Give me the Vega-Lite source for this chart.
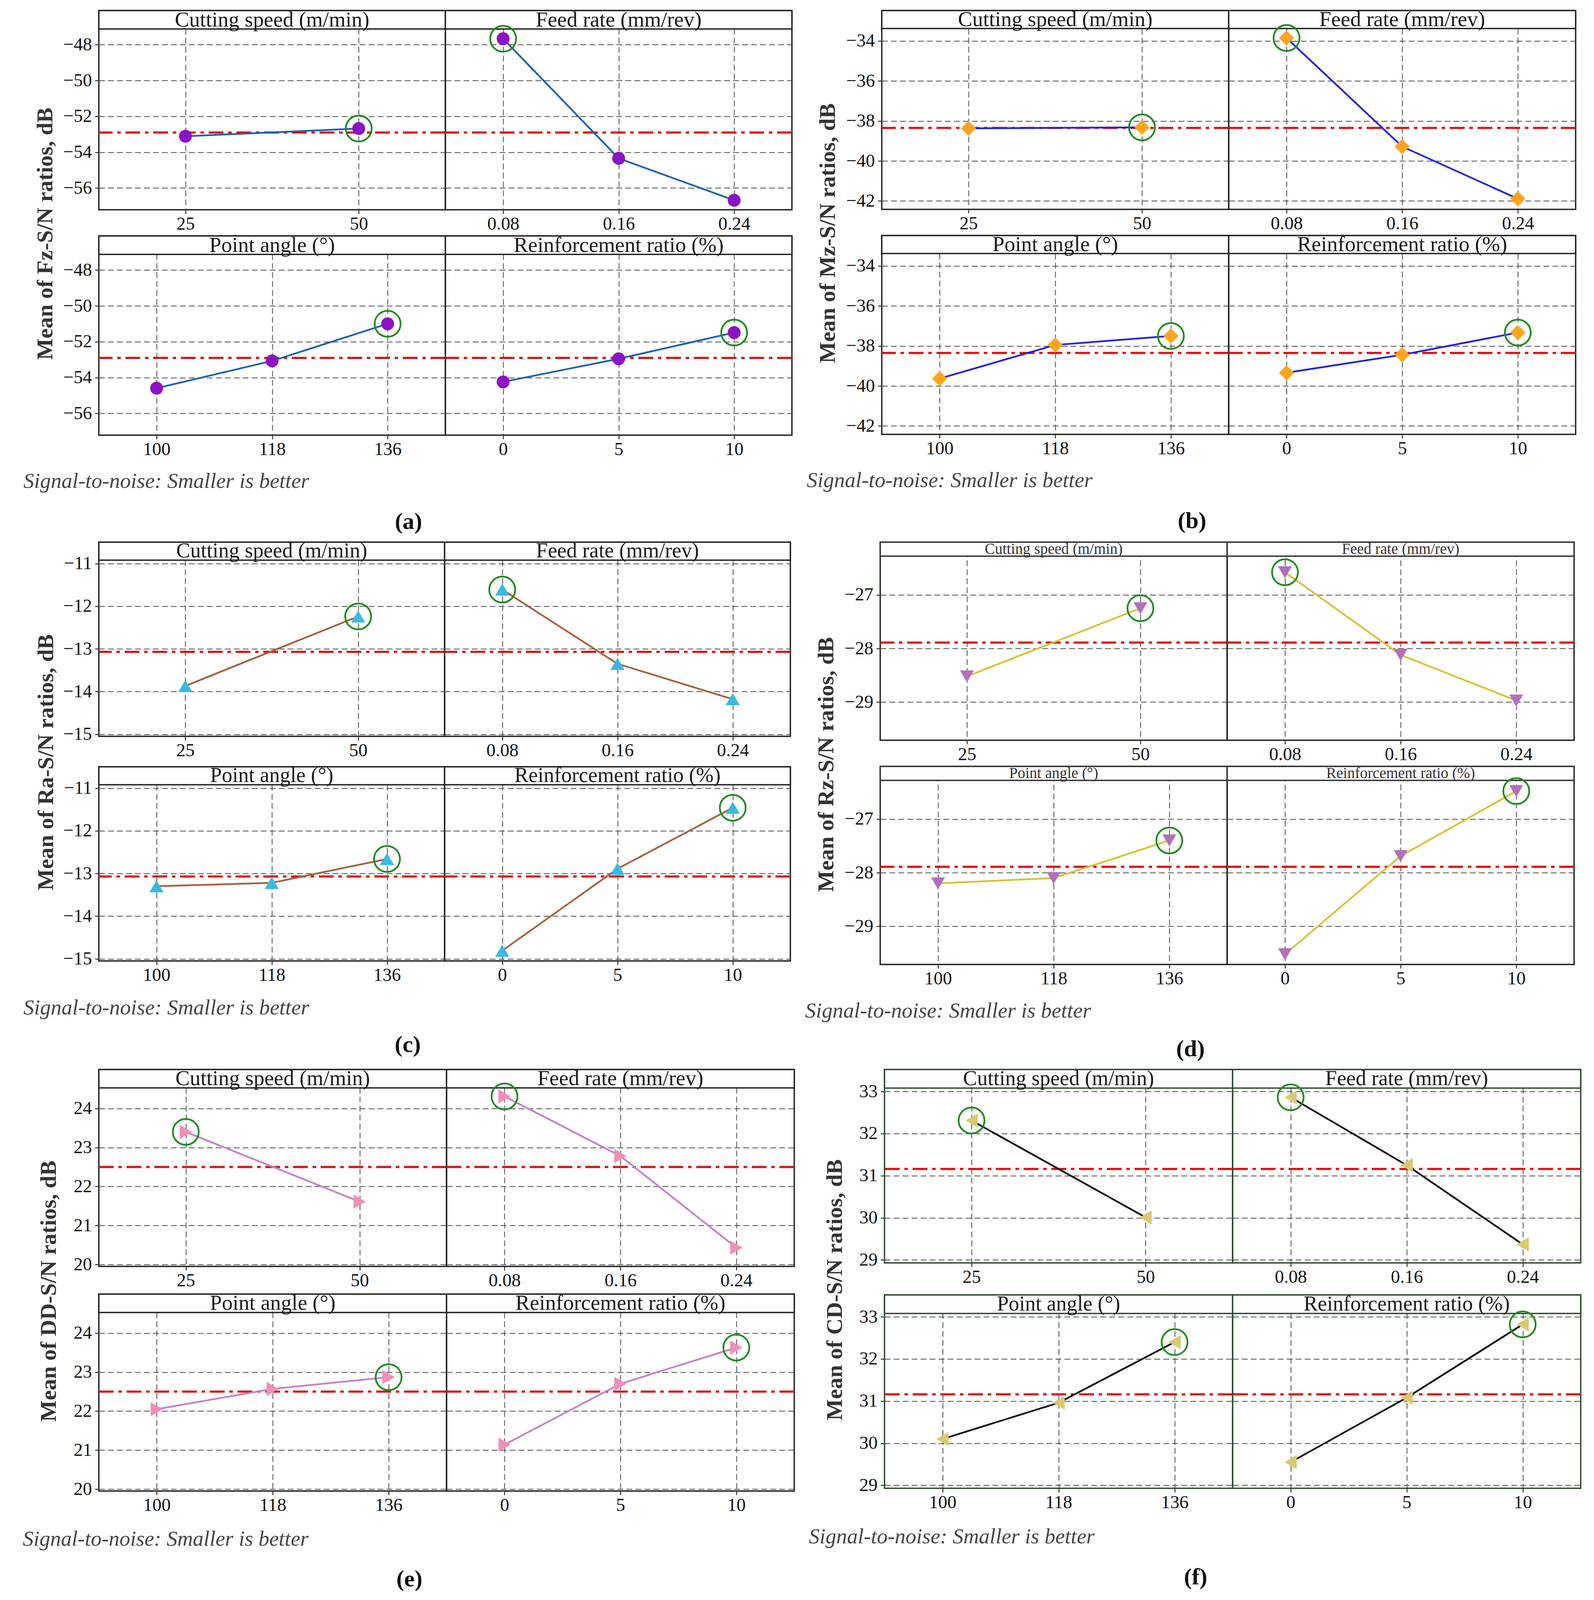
{
  "$schema": "https://vega.github.io/schema/vega-lite/v6.json",
  "background": "white",
  "padding": {"left": 58, "top": 21, "right": 0, "bottom": 0},
  "config": {
    "font": "Liberation Serif",
    "view": {"stroke": "#222", "strokeWidth": 3.5},
    "axis": {
      "labelFont": "Liberation Serif", "labelFontSize": 47, "labelColor": "#111",
      "tickSize": 10, "tickWidth": 2.5, "tickColor": "#333",
      "domain": false, "grid": true, "gridDash": [15, 8], "gridColor": "#4a4a4a", "gridWidth": 2
    },
    "axisX": {"labelAngle": 0, "labelPadding": 3},
    "axisY": {"labelPadding": 8},
    "scale": {"pointPadding": 0.5},
    "title": {"font": "Liberation Serif", "color": "#111"}
  },
  "datasets": {
    "means": [
      {"response": "Fz", "mean": -52.9},
      {"response": "Mz", "mean": -38.35},
      {"response": "Ra", "mean": -13.07},
      {"response": "Rz", "mean": -27.89},
      {"response": "DD", "mean": 22.5},
      {"response": "CD", "mean": 31.16}
    ],
    "fz": [
      {"factor": "Cutting speed (m/min)", "level": 25, "sn": -53.11, "best": false},
      {"factor": "Cutting speed (m/min)", "level": 50, "sn": -52.68, "best": true},
      {"factor": "Feed rate (mm/rev)", "level": 0.08, "sn": -47.67, "best": true},
      {"factor": "Feed rate (mm/rev)", "level": 0.16, "sn": -54.34, "best": false},
      {"factor": "Feed rate (mm/rev)", "level": 0.24, "sn": -56.68, "best": false},
      {"factor": "Point angle (°)", "level": 100, "sn": -54.59, "best": false},
      {"factor": "Point angle (°)", "level": 118, "sn": -53.07, "best": false},
      {"factor": "Point angle (°)", "level": 136, "sn": -51.0, "best": true},
      {"factor": "Reinforcement ratio (%)", "level": 0, "sn": -54.24, "best": false},
      {"factor": "Reinforcement ratio (%)", "level": 5, "sn": -52.95, "best": false},
      {"factor": "Reinforcement ratio (%)", "level": 10, "sn": -51.49, "best": true}
    ],
    "mz": [
      {"factor": "Cutting speed (m/min)", "level": 25, "sn": -38.37, "best": false},
      {"factor": "Cutting speed (m/min)", "level": 50, "sn": -38.32, "best": true},
      {"factor": "Feed rate (mm/rev)", "level": 0.08, "sn": -33.85, "best": true},
      {"factor": "Feed rate (mm/rev)", "level": 0.16, "sn": -39.28, "best": false},
      {"factor": "Feed rate (mm/rev)", "level": 0.24, "sn": -41.89, "best": false},
      {"factor": "Point angle (°)", "level": 100, "sn": -39.63, "best": false},
      {"factor": "Point angle (°)", "level": 118, "sn": -37.95, "best": false},
      {"factor": "Point angle (°)", "level": 136, "sn": -37.5, "best": true},
      {"factor": "Reinforcement ratio (%)", "level": 0, "sn": -39.34, "best": false},
      {"factor": "Reinforcement ratio (%)", "level": 5, "sn": -38.44, "best": false},
      {"factor": "Reinforcement ratio (%)", "level": 10, "sn": -37.33, "best": true}
    ],
    "ra": [
      {"factor": "Cutting speed (m/min)", "level": 25, "sn": -13.87, "best": false},
      {"factor": "Cutting speed (m/min)", "level": 50, "sn": -12.24, "best": true},
      {"factor": "Feed rate (mm/rev)", "level": 0.08, "sn": -11.61, "best": true},
      {"factor": "Feed rate (mm/rev)", "level": 0.16, "sn": -13.35, "best": false},
      {"factor": "Feed rate (mm/rev)", "level": 0.24, "sn": -14.18, "best": false},
      {"factor": "Point angle (°)", "level": 100, "sn": -13.3, "best": false},
      {"factor": "Point angle (°)", "level": 118, "sn": -13.22, "best": false},
      {"factor": "Point angle (°)", "level": 136, "sn": -12.66, "best": true},
      {"factor": "Reinforcement ratio (%)", "level": 0, "sn": -14.81, "best": false},
      {"factor": "Reinforcement ratio (%)", "level": 5, "sn": -12.89, "best": false},
      {"factor": "Reinforcement ratio (%)", "level": 10, "sn": -11.46, "best": true}
    ],
    "rz": [
      {"factor": "Cutting speed (m/min)", "level": 25, "sn": -28.52, "best": false},
      {"factor": "Cutting speed (m/min)", "level": 50, "sn": -27.25, "best": true},
      {"factor": "Feed rate (mm/rev)", "level": 0.08, "sn": -26.58, "best": true},
      {"factor": "Feed rate (mm/rev)", "level": 0.16, "sn": -28.12, "best": false},
      {"factor": "Feed rate (mm/rev)", "level": 0.24, "sn": -28.97, "best": false},
      {"factor": "Point angle (°)", "level": 100, "sn": -28.2, "best": false},
      {"factor": "Point angle (°)", "level": 118, "sn": -28.1, "best": false},
      {"factor": "Point angle (°)", "level": 136, "sn": -27.4, "best": true},
      {"factor": "Reinforcement ratio (%)", "level": 0, "sn": -29.52, "best": false},
      {"factor": "Reinforcement ratio (%)", "level": 5, "sn": -27.69, "best": false},
      {"factor": "Reinforcement ratio (%)", "level": 10, "sn": -26.48, "best": true}
    ],
    "dd": [
      {"factor": "Cutting speed (m/min)", "level": 25, "sn": 23.4, "best": true},
      {"factor": "Cutting speed (m/min)", "level": 50, "sn": 21.61, "best": false},
      {"factor": "Feed rate (mm/rev)", "level": 0.08, "sn": 24.31, "best": true},
      {"factor": "Feed rate (mm/rev)", "level": 0.16, "sn": 22.78, "best": false},
      {"factor": "Feed rate (mm/rev)", "level": 0.24, "sn": 20.43, "best": false},
      {"factor": "Point angle (°)", "level": 100, "sn": 22.05, "best": false},
      {"factor": "Point angle (°)", "level": 118, "sn": 22.57, "best": false},
      {"factor": "Point angle (°)", "level": 136, "sn": 22.87, "best": true},
      {"factor": "Reinforcement ratio (%)", "level": 0, "sn": 21.14, "best": false},
      {"factor": "Reinforcement ratio (%)", "level": 5, "sn": 22.7, "best": false},
      {"factor": "Reinforcement ratio (%)", "level": 10, "sn": 23.63, "best": true}
    ],
    "cd": [
      {"factor": "Cutting speed (m/min)", "level": 25, "sn": 32.31, "best": true},
      {"factor": "Cutting speed (m/min)", "level": 50, "sn": 30.01, "best": false},
      {"factor": "Feed rate (mm/rev)", "level": 0.08, "sn": 32.86, "best": true},
      {"factor": "Feed rate (mm/rev)", "level": 0.16, "sn": 31.25, "best": false},
      {"factor": "Feed rate (mm/rev)", "level": 0.24, "sn": 29.37, "best": false},
      {"factor": "Point angle (°)", "level": 100, "sn": 30.1, "best": false},
      {"factor": "Point angle (°)", "level": 118, "sn": 30.96, "best": false},
      {"factor": "Point angle (°)", "level": 136, "sn": 32.4, "best": true},
      {"factor": "Reinforcement ratio (%)", "level": 0, "sn": 29.55, "best": false},
      {"factor": "Reinforcement ratio (%)", "level": 5, "sn": 31.08, "best": false},
      {"factor": "Reinforcement ratio (%)", "level": 10, "sn": 32.82, "best": true}
    ]
  },
  "spacing": 16,
  "vconcat": [
    {
      "hconcat": [
        {
          "title": {"text": "(a)", "orient": "bottom", "anchor": "middle", "frame": "bounds", "fontSize": 60, "fontWeight": "bold", "offset": 47},
          "vconcat": [
            {
              "title": {"text": "Signal-to-noise: Smaller is better", "orient": "bottom", "anchor": "start", "frame": "bounds", "fontSize": 55, "fontStyle": "italic", "fontWeight": "normal", "color": "#444", "offset": 31, "dx": -28},
              "vconcat": [
                {
                  "title": {"text": "Mean of Fz-S/N ratios, dB", "orient": "left", "anchor": "middle", "fontSize": 58, "fontWeight": "bold", "color": "#333", "offset": 14},
                  "spacing": 0,
                  "vconcat": [
                    {
                      "hconcat": [
                        {
                          "width": 887, "height": 510,
                          "data": {"name": "fz"},
                          "transform": [{"filter": {"field": "factor", "equal": "Cutting speed (m/min)"}}],
                          "layer": [
                            {"transform": [{"aggregate": [{"op": "count", "as": "n"}], "groupby": ["factor"]}], "mark": {"type": "rect", "fill": "white", "stroke": "#222", "strokeWidth": 3.5}, "encoding": {"y": {"datum": -47.13, "type": "quantitative", "scale": {"domain": [-57.21, -46.1], "nice": false, "zero": false}, "axis": {"title": null, "format": "d", "values": [-56, -54, -52, -50, -48]}}, "y2": {"datum": -46.1}}},
                            {"transform": [{"aggregate": [{"op": "count", "as": "n"}], "groupby": ["factor"]}], "mark": {"type": "text", "fontSize": 55, "color": "#1a1a1a", "baseline": "middle"}, "encoding": {"text": {"field": "factor"}, "y": {"datum": -46.615, "type": "quantitative", "axis": {"title": null}}}},
                            {"data": {"name": "means"}, "transform": [{"filter": {"field": "response", "equal": "Fz"}}], "mark": {"type": "rule", "color": "#E01010", "strokeWidth": 5.5, "strokeDash": [38, 12, 9, 12]}, "encoding": {"y": {"field": "mean", "type": "quantitative", "axis": {"title": null}}}},
                            {"mark": {"type": "line", "color": "#1B62B5", "strokeWidth": 4.5}, "encoding": {"x": {"field": "level", "type": "ordinal", "axis": {"title": null}}, "y": {"field": "sn", "type": "quantitative", "axis": {"title": null}}}},
                            {"mark": {"type": "point", "shape": "circle", "filled": true, "size": 1089, "color": "#8B12C6", "opacity": 1}, "encoding": {"x": {"field": "level", "type": "ordinal", "axis": {"title": null}}, "y": {"field": "sn", "type": "quantitative", "axis": {"title": null}}}},
                            {"transform": [{"filter": {"field": "best", "equal": true}}], "mark": {"type": "point", "shape": "circle", "filled": false, "size": 4400, "color": "#1E8C1E", "strokeWidth": 4.5, "opacity": 1}, "encoding": {"x": {"field": "level", "type": "ordinal", "axis": {"title": null}}, "y": {"field": "sn", "type": "quantitative", "axis": {"title": null}}}}
                          ]
                        },
                        {
                          "width": 887, "height": 510,
                          "data": {"name": "fz"},
                          "transform": [{"filter": {"field": "factor", "equal": "Feed rate (mm/rev)"}}],
                          "layer": [
                            {"transform": [{"aggregate": [{"op": "count", "as": "n"}], "groupby": ["factor"]}], "mark": {"type": "rect", "fill": "white", "stroke": "#222", "strokeWidth": 3.5}, "encoding": {"y": {"datum": -47.13, "type": "quantitative", "scale": {"domain": [-57.21, -46.1], "nice": false, "zero": false}, "axis": {"title": null, "values": [-56, -54, -52, -50, -48], "labels": false, "ticks": false}}, "y2": {"datum": -46.1}}},
                            {"transform": [{"aggregate": [{"op": "count", "as": "n"}], "groupby": ["factor"]}], "mark": {"type": "text", "fontSize": 55, "color": "#1a1a1a", "baseline": "middle"}, "encoding": {"text": {"field": "factor"}, "y": {"datum": -46.615, "type": "quantitative", "axis": {"title": null}}}},
                            {"data": {"name": "means"}, "transform": [{"filter": {"field": "response", "equal": "Fz"}}], "mark": {"type": "rule", "color": "#E01010", "strokeWidth": 5.5, "strokeDash": [38, 12, 9, 12]}, "encoding": {"y": {"field": "mean", "type": "quantitative", "axis": {"title": null}}}},
                            {"mark": {"type": "line", "color": "#1B62B5", "strokeWidth": 4.5}, "encoding": {"x": {"field": "level", "type": "ordinal", "axis": {"title": null}}, "y": {"field": "sn", "type": "quantitative", "axis": {"title": null}}}},
                            {"mark": {"type": "point", "shape": "circle", "filled": true, "size": 1089, "color": "#8B12C6", "opacity": 1}, "encoding": {"x": {"field": "level", "type": "ordinal", "axis": {"title": null}}, "y": {"field": "sn", "type": "quantitative", "axis": {"title": null}}}},
                            {"transform": [{"filter": {"field": "best", "equal": true}}], "mark": {"type": "point", "shape": "circle", "filled": false, "size": 4400, "color": "#1E8C1E", "strokeWidth": 4.5, "opacity": 1}, "encoding": {"x": {"field": "level", "type": "ordinal", "axis": {"title": null}}, "y": {"field": "sn", "type": "quantitative", "axis": {"title": null}}}}
                          ]
                        }
                      ],
                      "spacing": 0, "bounds": "flush"
                    },
                    {
                      "hconcat": [
                        {
                          "width": 887, "height": 510,
                          "data": {"name": "fz"},
                          "transform": [{"filter": {"field": "factor", "equal": "Point angle (°)"}}],
                          "layer": [
                            {"transform": [{"aggregate": [{"op": "count", "as": "n"}], "groupby": ["factor"]}], "mark": {"type": "rect", "fill": "white", "stroke": "#222", "strokeWidth": 3.5}, "encoding": {"y": {"datum": -47.13, "type": "quantitative", "scale": {"domain": [-57.21, -46.1], "nice": false, "zero": false}, "axis": {"title": null, "format": "d", "values": [-56, -54, -52, -50, -48]}}, "y2": {"datum": -46.1}}},
                            {"transform": [{"aggregate": [{"op": "count", "as": "n"}], "groupby": ["factor"]}], "mark": {"type": "text", "fontSize": 55, "color": "#1a1a1a", "baseline": "middle"}, "encoding": {"text": {"field": "factor"}, "y": {"datum": -46.615, "type": "quantitative", "axis": {"title": null}}}},
                            {"data": {"name": "means"}, "transform": [{"filter": {"field": "response", "equal": "Fz"}}], "mark": {"type": "rule", "color": "#E01010", "strokeWidth": 5.5, "strokeDash": [38, 12, 9, 12]}, "encoding": {"y": {"field": "mean", "type": "quantitative", "axis": {"title": null}}}},
                            {"mark": {"type": "line", "color": "#1B62B5", "strokeWidth": 4.5}, "encoding": {"x": {"field": "level", "type": "ordinal", "axis": {"title": null}}, "y": {"field": "sn", "type": "quantitative", "axis": {"title": null}}}},
                            {"mark": {"type": "point", "shape": "circle", "filled": true, "size": 1089, "color": "#8B12C6", "opacity": 1}, "encoding": {"x": {"field": "level", "type": "ordinal", "axis": {"title": null}}, "y": {"field": "sn", "type": "quantitative", "axis": {"title": null}}}},
                            {"transform": [{"filter": {"field": "best", "equal": true}}], "mark": {"type": "point", "shape": "circle", "filled": false, "size": 4400, "color": "#1E8C1E", "strokeWidth": 4.5, "opacity": 1}, "encoding": {"x": {"field": "level", "type": "ordinal", "axis": {"title": null}}, "y": {"field": "sn", "type": "quantitative", "axis": {"title": null}}}}
                          ]
                        },
                        {
                          "width": 887, "height": 510,
                          "data": {"name": "fz"},
                          "transform": [{"filter": {"field": "factor", "equal": "Reinforcement ratio (%)"}}],
                          "layer": [
                            {"transform": [{"aggregate": [{"op": "count", "as": "n"}], "groupby": ["factor"]}], "mark": {"type": "rect", "fill": "white", "stroke": "#222", "strokeWidth": 3.5}, "encoding": {"y": {"datum": -47.13, "type": "quantitative", "scale": {"domain": [-57.21, -46.1], "nice": false, "zero": false}, "axis": {"title": null, "values": [-56, -54, -52, -50, -48], "labels": false, "ticks": false}}, "y2": {"datum": -46.1}}},
                            {"transform": [{"aggregate": [{"op": "count", "as": "n"}], "groupby": ["factor"]}], "mark": {"type": "text", "fontSize": 55, "color": "#1a1a1a", "baseline": "middle"}, "encoding": {"text": {"field": "factor"}, "y": {"datum": -46.615, "type": "quantitative", "axis": {"title": null}}}},
                            {"data": {"name": "means"}, "transform": [{"filter": {"field": "response", "equal": "Fz"}}], "mark": {"type": "rule", "color": "#E01010", "strokeWidth": 5.5, "strokeDash": [38, 12, 9, 12]}, "encoding": {"y": {"field": "mean", "type": "quantitative", "axis": {"title": null}}}},
                            {"mark": {"type": "line", "color": "#1B62B5", "strokeWidth": 4.5}, "encoding": {"x": {"field": "level", "type": "ordinal", "axis": {"title": null}}, "y": {"field": "sn", "type": "quantitative", "axis": {"title": null}}}},
                            {"mark": {"type": "point", "shape": "circle", "filled": true, "size": 1089, "color": "#8B12C6", "opacity": 1}, "encoding": {"x": {"field": "level", "type": "ordinal", "axis": {"title": null}}, "y": {"field": "sn", "type": "quantitative", "axis": {"title": null}}}},
                            {"transform": [{"filter": {"field": "best", "equal": true}}], "mark": {"type": "point", "shape": "circle", "filled": false, "size": 4400, "color": "#1E8C1E", "strokeWidth": 4.5, "opacity": 1}, "encoding": {"x": {"field": "level", "type": "ordinal", "axis": {"title": null}}, "y": {"field": "sn", "type": "quantitative", "axis": {"title": null}}}}
                          ]
                        }
                      ],
                      "spacing": 0, "bounds": "flush"
                    }
                  ]
                }
              ]
            }
          ]
        },
        {
          "title": {"text": "(b)", "orient": "bottom", "anchor": "middle", "frame": "bounds", "fontSize": 60, "fontWeight": "bold", "offset": 47},
          "vconcat": [
            {
              "title": {"text": "Signal-to-noise: Smaller is better", "orient": "bottom", "anchor": "start", "frame": "bounds", "fontSize": 55, "fontStyle": "italic", "fontWeight": "normal", "color": "#444", "offset": 31, "dx": -26},
              "vconcat": [
                {
                  "title": {"text": "Mean of Mz-S/N ratios, dB", "orient": "left", "anchor": "middle", "fontSize": 58, "fontWeight": "bold", "color": "#333", "offset": 15},
                  "spacing": 0,
                  "vconcat": [
                    {
                      "hconcat": [
                        {
                          "width": 888, "height": 509,
                          "data": {"name": "mz"},
                          "transform": [{"filter": {"field": "factor", "equal": "Cutting speed (m/min)"}}],
                          "layer": [
                            {"transform": [{"aggregate": [{"op": "count", "as": "n"}], "groupby": ["factor"]}], "mark": {"type": "rect", "fill": "white", "stroke": "#222", "strokeWidth": 3.5}, "encoding": {"y": {"datum": -33.38, "type": "quantitative", "scale": {"domain": [-42.42, -32.48], "nice": false, "zero": false}, "axis": {"title": null, "format": "d", "values": [-42, -40, -38, -36, -34]}}, "y2": {"datum": -32.48}}},
                            {"transform": [{"aggregate": [{"op": "count", "as": "n"}], "groupby": ["factor"]}], "mark": {"type": "text", "fontSize": 55, "color": "#1a1a1a", "baseline": "middle"}, "encoding": {"text": {"field": "factor"}, "y": {"datum": -32.93, "type": "quantitative", "axis": {"title": null}}}},
                            {"data": {"name": "means"}, "transform": [{"filter": {"field": "response", "equal": "Mz"}}], "mark": {"type": "rule", "color": "#E01010", "strokeWidth": 5.5, "strokeDash": [38, 12, 9, 12]}, "encoding": {"y": {"field": "mean", "type": "quantitative", "axis": {"title": null}}}},
                            {"mark": {"type": "line", "color": "#2222E8", "strokeWidth": 4.5}, "encoding": {"x": {"field": "level", "type": "ordinal", "axis": {"title": null}}, "y": {"field": "sn", "type": "quantitative", "axis": {"title": null}}}},
                            {"mark": {"type": "point", "shape": "diamond", "filled": true, "size": 1500, "color": "#FFA41F", "opacity": 1}, "encoding": {"x": {"field": "level", "type": "ordinal", "axis": {"title": null}}, "y": {"field": "sn", "type": "quantitative", "axis": {"title": null}}}},
                            {"transform": [{"filter": {"field": "best", "equal": true}}], "mark": {"type": "point", "shape": "circle", "filled": false, "size": 4400, "color": "#1E8C1E", "strokeWidth": 4.5, "opacity": 1}, "encoding": {"x": {"field": "level", "type": "ordinal", "axis": {"title": null}}, "y": {"field": "sn", "type": "quantitative", "axis": {"title": null}}}}
                          ]
                        },
                        {
                          "width": 888, "height": 509,
                          "data": {"name": "mz"},
                          "transform": [{"filter": {"field": "factor", "equal": "Feed rate (mm/rev)"}}],
                          "layer": [
                            {"transform": [{"aggregate": [{"op": "count", "as": "n"}], "groupby": ["factor"]}], "mark": {"type": "rect", "fill": "white", "stroke": "#222", "strokeWidth": 3.5}, "encoding": {"y": {"datum": -33.38, "type": "quantitative", "scale": {"domain": [-42.42, -32.48], "nice": false, "zero": false}, "axis": {"title": null, "values": [-42, -40, -38, -36, -34], "labels": false, "ticks": false}}, "y2": {"datum": -32.48}}},
                            {"transform": [{"aggregate": [{"op": "count", "as": "n"}], "groupby": ["factor"]}], "mark": {"type": "text", "fontSize": 55, "color": "#1a1a1a", "baseline": "middle"}, "encoding": {"text": {"field": "factor"}, "y": {"datum": -32.93, "type": "quantitative", "axis": {"title": null}}}},
                            {"data": {"name": "means"}, "transform": [{"filter": {"field": "response", "equal": "Mz"}}], "mark": {"type": "rule", "color": "#E01010", "strokeWidth": 5.5, "strokeDash": [38, 12, 9, 12]}, "encoding": {"y": {"field": "mean", "type": "quantitative", "axis": {"title": null}}}},
                            {"mark": {"type": "line", "color": "#2222E8", "strokeWidth": 4.5}, "encoding": {"x": {"field": "level", "type": "ordinal", "axis": {"title": null}}, "y": {"field": "sn", "type": "quantitative", "axis": {"title": null}}}},
                            {"mark": {"type": "point", "shape": "diamond", "filled": true, "size": 1500, "color": "#FFA41F", "opacity": 1}, "encoding": {"x": {"field": "level", "type": "ordinal", "axis": {"title": null}}, "y": {"field": "sn", "type": "quantitative", "axis": {"title": null}}}},
                            {"transform": [{"filter": {"field": "best", "equal": true}}], "mark": {"type": "point", "shape": "circle", "filled": false, "size": 4400, "color": "#1E8C1E", "strokeWidth": 4.5, "opacity": 1}, "encoding": {"x": {"field": "level", "type": "ordinal", "axis": {"title": null}}, "y": {"field": "sn", "type": "quantitative", "axis": {"title": null}}}}
                          ]
                        }
                      ],
                      "spacing": 0, "bounds": "flush"
                    },
                    {
                      "hconcat": [
                        {
                          "width": 888, "height": 509,
                          "data": {"name": "mz"},
                          "transform": [{"filter": {"field": "factor", "equal": "Point angle (°)"}}],
                          "layer": [
                            {"transform": [{"aggregate": [{"op": "count", "as": "n"}], "groupby": ["factor"]}], "mark": {"type": "rect", "fill": "white", "stroke": "#222", "strokeWidth": 3.5}, "encoding": {"y": {"datum": -33.38, "type": "quantitative", "scale": {"domain": [-42.42, -32.48], "nice": false, "zero": false}, "axis": {"title": null, "format": "d", "values": [-42, -40, -38, -36, -34]}}, "y2": {"datum": -32.48}}},
                            {"transform": [{"aggregate": [{"op": "count", "as": "n"}], "groupby": ["factor"]}], "mark": {"type": "text", "fontSize": 55, "color": "#1a1a1a", "baseline": "middle"}, "encoding": {"text": {"field": "factor"}, "y": {"datum": -32.93, "type": "quantitative", "axis": {"title": null}}}},
                            {"data": {"name": "means"}, "transform": [{"filter": {"field": "response", "equal": "Mz"}}], "mark": {"type": "rule", "color": "#E01010", "strokeWidth": 5.5, "strokeDash": [38, 12, 9, 12]}, "encoding": {"y": {"field": "mean", "type": "quantitative", "axis": {"title": null}}}},
                            {"mark": {"type": "line", "color": "#2222E8", "strokeWidth": 4.5}, "encoding": {"x": {"field": "level", "type": "ordinal", "axis": {"title": null}}, "y": {"field": "sn", "type": "quantitative", "axis": {"title": null}}}},
                            {"mark": {"type": "point", "shape": "diamond", "filled": true, "size": 1500, "color": "#FFA41F", "opacity": 1}, "encoding": {"x": {"field": "level", "type": "ordinal", "axis": {"title": null}}, "y": {"field": "sn", "type": "quantitative", "axis": {"title": null}}}},
                            {"transform": [{"filter": {"field": "best", "equal": true}}], "mark": {"type": "point", "shape": "circle", "filled": false, "size": 4400, "color": "#1E8C1E", "strokeWidth": 4.5, "opacity": 1}, "encoding": {"x": {"field": "level", "type": "ordinal", "axis": {"title": null}}, "y": {"field": "sn", "type": "quantitative", "axis": {"title": null}}}}
                          ]
                        },
                        {
                          "width": 888, "height": 509,
                          "data": {"name": "mz"},
                          "transform": [{"filter": {"field": "factor", "equal": "Reinforcement ratio (%)"}}],
                          "layer": [
                            {"transform": [{"aggregate": [{"op": "count", "as": "n"}], "groupby": ["factor"]}], "mark": {"type": "rect", "fill": "white", "stroke": "#222", "strokeWidth": 3.5}, "encoding": {"y": {"datum": -33.38, "type": "quantitative", "scale": {"domain": [-42.42, -32.48], "nice": false, "zero": false}, "axis": {"title": null, "values": [-42, -40, -38, -36, -34], "labels": false, "ticks": false}}, "y2": {"datum": -32.48}}},
                            {"transform": [{"aggregate": [{"op": "count", "as": "n"}], "groupby": ["factor"]}], "mark": {"type": "text", "fontSize": 55, "color": "#1a1a1a", "baseline": "middle"}, "encoding": {"text": {"field": "factor"}, "y": {"datum": -32.93, "type": "quantitative", "axis": {"title": null}}}},
                            {"data": {"name": "means"}, "transform": [{"filter": {"field": "response", "equal": "Mz"}}], "mark": {"type": "rule", "color": "#E01010", "strokeWidth": 5.5, "strokeDash": [38, 12, 9, 12]}, "encoding": {"y": {"field": "mean", "type": "quantitative", "axis": {"title": null}}}},
                            {"mark": {"type": "line", "color": "#2222E8", "strokeWidth": 4.5}, "encoding": {"x": {"field": "level", "type": "ordinal", "axis": {"title": null}}, "y": {"field": "sn", "type": "quantitative", "axis": {"title": null}}}},
                            {"mark": {"type": "point", "shape": "diamond", "filled": true, "size": 1500, "color": "#FFA41F", "opacity": 1}, "encoding": {"x": {"field": "level", "type": "ordinal", "axis": {"title": null}}, "y": {"field": "sn", "type": "quantitative", "axis": {"title": null}}}},
                            {"transform": [{"filter": {"field": "best", "equal": true}}], "mark": {"type": "point", "shape": "circle", "filled": false, "size": 4400, "color": "#1E8C1E", "strokeWidth": 4.5, "opacity": 1}, "encoding": {"x": {"field": "level", "type": "ordinal", "axis": {"title": null}}, "y": {"field": "sn", "type": "quantitative", "axis": {"title": null}}}}
                          ]
                        }
                      ],
                      "spacing": 0, "bounds": "flush"
                    }
                  ]
                }
              ]
            }
          ]
        }
      ],
      "spacing": 32
    },
    {
      "hconcat": [
        {
          "title": {"text": "(c)", "orient": "bottom", "anchor": "middle", "frame": "bounds", "fontSize": 60, "fontWeight": "bold", "offset": 38},
          "vconcat": [
            {
              "title": {"text": "Signal-to-noise: Smaller is better", "orient": "bottom", "anchor": "start", "frame": "bounds", "fontSize": 55, "fontStyle": "italic", "fontWeight": "normal", "color": "#444", "offset": 33, "dx": -30},
              "vconcat": [
                {
                  "title": {"text": "Mean of Ra-S/N ratios, dB", "orient": "left", "anchor": "middle", "fontSize": 58, "fontWeight": "bold", "color": "#333", "offset": 12},
                  "spacing": 11,
                  "vconcat": [
                    {
                      "hconcat": [
                        {
                          "width": 885, "height": 497,
                          "data": {"name": "ra"},
                          "transform": [{"filter": {"field": "factor", "equal": "Cutting speed (m/min)"}}],
                          "layer": [
                            {"transform": [{"aggregate": [{"op": "count", "as": "n"}], "groupby": ["factor"]}], "mark": {"type": "rect", "fill": "white", "stroke": "#222", "strokeWidth": 3.5}, "encoding": {"y": {"datum": -10.92, "type": "quantitative", "scale": {"domain": [-15.05, -10.5], "nice": false, "zero": false}, "axis": {"title": null, "format": "d", "values": [-15, -14, -13, -12, -11]}}, "y2": {"datum": -10.5}}},
                            {"transform": [{"aggregate": [{"op": "count", "as": "n"}], "groupby": ["factor"]}], "mark": {"type": "text", "fontSize": 54, "color": "#1a1a1a", "baseline": "middle"}, "encoding": {"text": {"field": "factor"}, "y": {"datum": -10.71, "type": "quantitative", "axis": {"title": null}}}},
                            {"data": {"name": "means"}, "transform": [{"filter": {"field": "response", "equal": "Ra"}}], "mark": {"type": "rule", "color": "#E01010", "strokeWidth": 5.5, "strokeDash": [38, 12, 9, 12]}, "encoding": {"y": {"field": "mean", "type": "quantitative", "axis": {"title": null}}}},
                            {"mark": {"type": "line", "color": "#A5603E", "strokeWidth": 4.5}, "encoding": {"x": {"field": "level", "type": "ordinal", "axis": {"title": null}}, "y": {"field": "sn", "type": "quantitative", "axis": {"title": null}}}},
                            {"mark": {"type": "point", "shape": "triangle-up", "filled": true, "size": 1300, "color": "#3BB9E2", "opacity": 1}, "encoding": {"x": {"field": "level", "type": "ordinal", "axis": {"title": null}}, "y": {"field": "sn", "type": "quantitative", "axis": {"title": null}}}},
                            {"transform": [{"filter": {"field": "best", "equal": true}}], "mark": {"type": "point", "shape": "circle", "filled": false, "size": 4400, "color": "#1E8C1E", "strokeWidth": 4.5, "opacity": 1}, "encoding": {"x": {"field": "level", "type": "ordinal", "axis": {"title": null}}, "y": {"field": "sn", "type": "quantitative", "axis": {"title": null}}}}
                          ]
                        },
                        {
                          "width": 885, "height": 497,
                          "data": {"name": "ra"},
                          "transform": [{"filter": {"field": "factor", "equal": "Feed rate (mm/rev)"}}],
                          "layer": [
                            {"transform": [{"aggregate": [{"op": "count", "as": "n"}], "groupby": ["factor"]}], "mark": {"type": "rect", "fill": "white", "stroke": "#222", "strokeWidth": 3.5}, "encoding": {"y": {"datum": -10.92, "type": "quantitative", "scale": {"domain": [-15.05, -10.5], "nice": false, "zero": false}, "axis": {"title": null, "values": [-15, -14, -13, -12, -11], "labels": false, "ticks": false}}, "y2": {"datum": -10.5}}},
                            {"transform": [{"aggregate": [{"op": "count", "as": "n"}], "groupby": ["factor"]}], "mark": {"type": "text", "fontSize": 54, "color": "#1a1a1a", "baseline": "middle"}, "encoding": {"text": {"field": "factor"}, "y": {"datum": -10.71, "type": "quantitative", "axis": {"title": null}}}},
                            {"data": {"name": "means"}, "transform": [{"filter": {"field": "response", "equal": "Ra"}}], "mark": {"type": "rule", "color": "#E01010", "strokeWidth": 5.5, "strokeDash": [38, 12, 9, 12]}, "encoding": {"y": {"field": "mean", "type": "quantitative", "axis": {"title": null}}}},
                            {"mark": {"type": "line", "color": "#A5603E", "strokeWidth": 4.5}, "encoding": {"x": {"field": "level", "type": "ordinal", "axis": {"title": null}}, "y": {"field": "sn", "type": "quantitative", "axis": {"title": null}}}},
                            {"mark": {"type": "point", "shape": "triangle-up", "filled": true, "size": 1300, "color": "#3BB9E2", "opacity": 1}, "encoding": {"x": {"field": "level", "type": "ordinal", "axis": {"title": null}}, "y": {"field": "sn", "type": "quantitative", "axis": {"title": null}}}},
                            {"transform": [{"filter": {"field": "best", "equal": true}}], "mark": {"type": "point", "shape": "circle", "filled": false, "size": 4400, "color": "#1E8C1E", "strokeWidth": 4.5, "opacity": 1}, "encoding": {"x": {"field": "level", "type": "ordinal", "axis": {"title": null}}, "y": {"field": "sn", "type": "quantitative", "axis": {"title": null}}}}
                          ]
                        }
                      ],
                      "spacing": 0, "bounds": "flush"
                    },
                    {
                      "hconcat": [
                        {
                          "width": 885, "height": 497,
                          "data": {"name": "ra"},
                          "transform": [{"filter": {"field": "factor", "equal": "Point angle (°)"}}],
                          "layer": [
                            {"transform": [{"aggregate": [{"op": "count", "as": "n"}], "groupby": ["factor"]}], "mark": {"type": "rect", "fill": "white", "stroke": "#222", "strokeWidth": 3.5}, "encoding": {"y": {"datum": -10.92, "type": "quantitative", "scale": {"domain": [-15.05, -10.5], "nice": false, "zero": false}, "axis": {"title": null, "format": "d", "values": [-15, -14, -13, -12, -11]}}, "y2": {"datum": -10.5}}},
                            {"transform": [{"aggregate": [{"op": "count", "as": "n"}], "groupby": ["factor"]}], "mark": {"type": "text", "fontSize": 54, "color": "#1a1a1a", "baseline": "middle"}, "encoding": {"text": {"field": "factor"}, "y": {"datum": -10.71, "type": "quantitative", "axis": {"title": null}}}},
                            {"data": {"name": "means"}, "transform": [{"filter": {"field": "response", "equal": "Ra"}}], "mark": {"type": "rule", "color": "#E01010", "strokeWidth": 5.5, "strokeDash": [38, 12, 9, 12]}, "encoding": {"y": {"field": "mean", "type": "quantitative", "axis": {"title": null}}}},
                            {"mark": {"type": "line", "color": "#A5603E", "strokeWidth": 4.5}, "encoding": {"x": {"field": "level", "type": "ordinal", "axis": {"title": null}}, "y": {"field": "sn", "type": "quantitative", "axis": {"title": null}}}},
                            {"mark": {"type": "point", "shape": "triangle-up", "filled": true, "size": 1300, "color": "#3BB9E2", "opacity": 1}, "encoding": {"x": {"field": "level", "type": "ordinal", "axis": {"title": null}}, "y": {"field": "sn", "type": "quantitative", "axis": {"title": null}}}},
                            {"transform": [{"filter": {"field": "best", "equal": true}}], "mark": {"type": "point", "shape": "circle", "filled": false, "size": 4400, "color": "#1E8C1E", "strokeWidth": 4.5, "opacity": 1}, "encoding": {"x": {"field": "level", "type": "ordinal", "axis": {"title": null}}, "y": {"field": "sn", "type": "quantitative", "axis": {"title": null}}}}
                          ]
                        },
                        {
                          "width": 885, "height": 497,
                          "data": {"name": "ra"},
                          "transform": [{"filter": {"field": "factor", "equal": "Reinforcement ratio (%)"}}],
                          "layer": [
                            {"transform": [{"aggregate": [{"op": "count", "as": "n"}], "groupby": ["factor"]}], "mark": {"type": "rect", "fill": "white", "stroke": "#222", "strokeWidth": 3.5}, "encoding": {"y": {"datum": -10.92, "type": "quantitative", "scale": {"domain": [-15.05, -10.5], "nice": false, "zero": false}, "axis": {"title": null, "values": [-15, -14, -13, -12, -11], "labels": false, "ticks": false}}, "y2": {"datum": -10.5}}},
                            {"transform": [{"aggregate": [{"op": "count", "as": "n"}], "groupby": ["factor"]}], "mark": {"type": "text", "fontSize": 54, "color": "#1a1a1a", "baseline": "middle"}, "encoding": {"text": {"field": "factor"}, "y": {"datum": -10.71, "type": "quantitative", "axis": {"title": null}}}},
                            {"data": {"name": "means"}, "transform": [{"filter": {"field": "response", "equal": "Ra"}}], "mark": {"type": "rule", "color": "#E01010", "strokeWidth": 5.5, "strokeDash": [38, 12, 9, 12]}, "encoding": {"y": {"field": "mean", "type": "quantitative", "axis": {"title": null}}}},
                            {"mark": {"type": "line", "color": "#A5603E", "strokeWidth": 4.5}, "encoding": {"x": {"field": "level", "type": "ordinal", "axis": {"title": null}}, "y": {"field": "sn", "type": "quantitative", "axis": {"title": null}}}},
                            {"mark": {"type": "point", "shape": "triangle-up", "filled": true, "size": 1300, "color": "#3BB9E2", "opacity": 1}, "encoding": {"x": {"field": "level", "type": "ordinal", "axis": {"title": null}}, "y": {"field": "sn", "type": "quantitative", "axis": {"title": null}}}},
                            {"transform": [{"filter": {"field": "best", "equal": true}}], "mark": {"type": "point", "shape": "circle", "filled": false, "size": 4400, "color": "#1E8C1E", "strokeWidth": 4.5, "opacity": 1}, "encoding": {"x": {"field": "level", "type": "ordinal", "axis": {"title": null}}, "y": {"field": "sn", "type": "quantitative", "axis": {"title": null}}}}
                          ]
                        }
                      ],
                      "spacing": 0, "bounds": "flush"
                    }
                  ]
                }
              ]
            }
          ]
        },
        {
          "title": {"text": "(d)", "orient": "bottom", "anchor": "middle", "frame": "bounds", "fontSize": 60, "fontWeight": "bold", "offset": 41},
          "vconcat": [
            {
              "title": {"text": "Signal-to-noise: Smaller is better", "orient": "bottom", "anchor": "start", "frame": "bounds", "fontSize": 55, "fontStyle": "italic", "fontWeight": "normal", "color": "#444", "offset": 32, "dx": -26},
              "vconcat": [
                {
                  "title": {"text": "Mean of Rz-S/N ratios, dB", "orient": "left", "anchor": "middle", "fontSize": 58, "fontWeight": "bold", "color": "#333", "offset": 15},
                  "spacing": 2,
                  "vconcat": [
                    {
                      "hconcat": [
                        {
                          "width": 888, "height": 507,
                          "data": {"name": "rz"},
                          "transform": [{"filter": {"field": "factor", "equal": "Cutting speed (m/min)"}}],
                          "layer": [
                            {"transform": [{"aggregate": [{"op": "count", "as": "n"}], "groupby": ["factor"]}], "mark": {"type": "rect", "fill": "white", "stroke": "#333", "strokeWidth": 3.5}, "encoding": {"y": {"datum": -26.28, "type": "quantitative", "scale": {"domain": [-29.71, -26.02], "nice": false, "zero": false}, "axis": {"title": null, "format": "d", "values": [-29, -28, -27]}}, "y2": {"datum": -26.02}}},
                            {"transform": [{"aggregate": [{"op": "count", "as": "n"}], "groupby": ["factor"]}], "mark": {"type": "text", "fontSize": 39, "color": "#333", "baseline": "middle"}, "encoding": {"text": {"field": "factor"}, "y": {"datum": -26.15, "type": "quantitative", "axis": {"title": null}}}},
                            {"data": {"name": "means"}, "transform": [{"filter": {"field": "response", "equal": "Rz"}}], "mark": {"type": "rule", "color": "#E01010", "strokeWidth": 5.5, "strokeDash": [38, 12, 9, 12]}, "encoding": {"y": {"field": "mean", "type": "quantitative", "axis": {"title": null}}}},
                            {"mark": {"type": "line", "color": "#D7C232", "strokeWidth": 4.5}, "encoding": {"x": {"field": "level", "type": "ordinal", "axis": {"title": null}}, "y": {"field": "sn", "type": "quantitative", "axis": {"title": null}}}},
                            {"mark": {"type": "point", "shape": "triangle-down", "filled": true, "size": 1250, "color": "#B36FBA", "opacity": 1}, "encoding": {"x": {"field": "level", "type": "ordinal", "axis": {"title": null}}, "y": {"field": "sn", "type": "quantitative", "axis": {"title": null}}}},
                            {"transform": [{"filter": {"field": "best", "equal": true}}], "mark": {"type": "point", "shape": "circle", "filled": false, "size": 4400, "color": "#1E8C1E", "strokeWidth": 4.5, "opacity": 1}, "encoding": {"x": {"field": "level", "type": "ordinal", "axis": {"title": null}}, "y": {"field": "sn", "type": "quantitative", "axis": {"title": null}}}}
                          ]
                        },
                        {
                          "width": 888, "height": 507,
                          "data": {"name": "rz"},
                          "transform": [{"filter": {"field": "factor", "equal": "Feed rate (mm/rev)"}}],
                          "layer": [
                            {"transform": [{"aggregate": [{"op": "count", "as": "n"}], "groupby": ["factor"]}], "mark": {"type": "rect", "fill": "white", "stroke": "#333", "strokeWidth": 3.5}, "encoding": {"y": {"datum": -26.28, "type": "quantitative", "scale": {"domain": [-29.71, -26.02], "nice": false, "zero": false}, "axis": {"title": null, "values": [-29, -28, -27], "labels": false, "ticks": false}}, "y2": {"datum": -26.02}}},
                            {"transform": [{"aggregate": [{"op": "count", "as": "n"}], "groupby": ["factor"]}], "mark": {"type": "text", "fontSize": 39, "color": "#333", "baseline": "middle"}, "encoding": {"text": {"field": "factor"}, "y": {"datum": -26.15, "type": "quantitative", "axis": {"title": null}}}},
                            {"data": {"name": "means"}, "transform": [{"filter": {"field": "response", "equal": "Rz"}}], "mark": {"type": "rule", "color": "#E01010", "strokeWidth": 5.5, "strokeDash": [38, 12, 9, 12]}, "encoding": {"y": {"field": "mean", "type": "quantitative", "axis": {"title": null}}}},
                            {"mark": {"type": "line", "color": "#D7C232", "strokeWidth": 4.5}, "encoding": {"x": {"field": "level", "type": "ordinal", "axis": {"title": null}}, "y": {"field": "sn", "type": "quantitative", "axis": {"title": null}}}},
                            {"mark": {"type": "point", "shape": "triangle-down", "filled": true, "size": 1250, "color": "#B36FBA", "opacity": 1}, "encoding": {"x": {"field": "level", "type": "ordinal", "axis": {"title": null}}, "y": {"field": "sn", "type": "quantitative", "axis": {"title": null}}}},
                            {"transform": [{"filter": {"field": "best", "equal": true}}], "mark": {"type": "point", "shape": "circle", "filled": false, "size": 4400, "color": "#1E8C1E", "strokeWidth": 4.5, "opacity": 1}, "encoding": {"x": {"field": "level", "type": "ordinal", "axis": {"title": null}}, "y": {"field": "sn", "type": "quantitative", "axis": {"title": null}}}}
                          ]
                        }
                      ],
                      "spacing": 0, "bounds": "flush"
                    },
                    {
                      "hconcat": [
                        {
                          "width": 888, "height": 507,
                          "data": {"name": "rz"},
                          "transform": [{"filter": {"field": "factor", "equal": "Point angle (°)"}}],
                          "layer": [
                            {"transform": [{"aggregate": [{"op": "count", "as": "n"}], "groupby": ["factor"]}], "mark": {"type": "rect", "fill": "white", "stroke": "#333", "strokeWidth": 3.5}, "encoding": {"y": {"datum": -26.28, "type": "quantitative", "scale": {"domain": [-29.71, -26.02], "nice": false, "zero": false}, "axis": {"title": null, "format": "d", "values": [-29, -28, -27]}}, "y2": {"datum": -26.02}}},
                            {"transform": [{"aggregate": [{"op": "count", "as": "n"}], "groupby": ["factor"]}], "mark": {"type": "text", "fontSize": 39, "color": "#333", "baseline": "middle"}, "encoding": {"text": {"field": "factor"}, "y": {"datum": -26.15, "type": "quantitative", "axis": {"title": null}}}},
                            {"data": {"name": "means"}, "transform": [{"filter": {"field": "response", "equal": "Rz"}}], "mark": {"type": "rule", "color": "#E01010", "strokeWidth": 5.5, "strokeDash": [38, 12, 9, 12]}, "encoding": {"y": {"field": "mean", "type": "quantitative", "axis": {"title": null}}}},
                            {"mark": {"type": "line", "color": "#D7C232", "strokeWidth": 4.5}, "encoding": {"x": {"field": "level", "type": "ordinal", "axis": {"title": null}}, "y": {"field": "sn", "type": "quantitative", "axis": {"title": null}}}},
                            {"mark": {"type": "point", "shape": "triangle-down", "filled": true, "size": 1250, "color": "#B36FBA", "opacity": 1}, "encoding": {"x": {"field": "level", "type": "ordinal", "axis": {"title": null}}, "y": {"field": "sn", "type": "quantitative", "axis": {"title": null}}}},
                            {"transform": [{"filter": {"field": "best", "equal": true}}], "mark": {"type": "point", "shape": "circle", "filled": false, "size": 4400, "color": "#1E8C1E", "strokeWidth": 4.5, "opacity": 1}, "encoding": {"x": {"field": "level", "type": "ordinal", "axis": {"title": null}}, "y": {"field": "sn", "type": "quantitative", "axis": {"title": null}}}}
                          ]
                        },
                        {
                          "width": 888, "height": 507,
                          "data": {"name": "rz"},
                          "transform": [{"filter": {"field": "factor", "equal": "Reinforcement ratio (%)"}}],
                          "layer": [
                            {"transform": [{"aggregate": [{"op": "count", "as": "n"}], "groupby": ["factor"]}], "mark": {"type": "rect", "fill": "white", "stroke": "#333", "strokeWidth": 3.5}, "encoding": {"y": {"datum": -26.28, "type": "quantitative", "scale": {"domain": [-29.71, -26.02], "nice": false, "zero": false}, "axis": {"title": null, "values": [-29, -28, -27], "labels": false, "ticks": false}}, "y2": {"datum": -26.02}}},
                            {"transform": [{"aggregate": [{"op": "count", "as": "n"}], "groupby": ["factor"]}], "mark": {"type": "text", "fontSize": 39, "color": "#333", "baseline": "middle"}, "encoding": {"text": {"field": "factor"}, "y": {"datum": -26.15, "type": "quantitative", "axis": {"title": null}}}},
                            {"data": {"name": "means"}, "transform": [{"filter": {"field": "response", "equal": "Rz"}}], "mark": {"type": "rule", "color": "#E01010", "strokeWidth": 5.5, "strokeDash": [38, 12, 9, 12]}, "encoding": {"y": {"field": "mean", "type": "quantitative", "axis": {"title": null}}}},
                            {"mark": {"type": "line", "color": "#D7C232", "strokeWidth": 4.5}, "encoding": {"x": {"field": "level", "type": "ordinal", "axis": {"title": null}}, "y": {"field": "sn", "type": "quantitative", "axis": {"title": null}}}},
                            {"mark": {"type": "point", "shape": "triangle-down", "filled": true, "size": 1250, "color": "#B36FBA", "opacity": 1}, "encoding": {"x": {"field": "level", "type": "ordinal", "axis": {"title": null}}, "y": {"field": "sn", "type": "quantitative", "axis": {"title": null}}}},
                            {"transform": [{"filter": {"field": "best", "equal": true}}], "mark": {"type": "point", "shape": "circle", "filled": false, "size": 4400, "color": "#1E8C1E", "strokeWidth": 4.5, "opacity": 1}, "encoding": {"x": {"field": "level", "type": "ordinal", "axis": {"title": null}}, "y": {"field": "sn", "type": "quantitative", "axis": {"title": null}}}}
                          ]
                        }
                      ],
                      "spacing": 0, "bounds": "flush"
                    }
                  ]
                }
              ]
            }
          ]
        }
      ],
      "spacing": 32
    },
    {
      "hconcat": [
        {
          "title": {"text": "(e)", "orient": "bottom", "anchor": "middle", "frame": "bounds", "fontSize": 60, "fontWeight": "bold", "offset": 46},
          "vconcat": [
            {
              "title": {"text": "Signal-to-noise: Smaller is better", "orient": "bottom", "anchor": "start", "frame": "bounds", "fontSize": 55, "fontStyle": "italic", "fontWeight": "normal", "color": "#444", "offset": 36, "dx": -39},
              "vconcat": [
                {
                  "title": {"text": "Mean of DD-S/N ratios, dB", "orient": "left", "anchor": "middle", "fontSize": 58, "fontWeight": "bold", "color": "#333", "offset": 31},
                  "spacing": 4,
                  "vconcat": [
                    {
                      "hconcat": [
                        {
                          "width": 890, "height": 504,
                          "data": {"name": "dd"},
                          "transform": [{"filter": {"field": "factor", "equal": "Cutting speed (m/min)"}}],
                          "layer": [
                            {"transform": [{"aggregate": [{"op": "count", "as": "n"}], "groupby": ["factor"]}], "mark": {"type": "rect", "fill": "white", "stroke": "#222", "strokeWidth": 3.5}, "encoding": {"y": {"datum": 24.53, "type": "quantitative", "scale": {"domain": [19.95, 25.0], "nice": false, "zero": false}, "axis": {"title": null, "format": "d", "values": [20, 21, 22, 23, 24]}}, "y2": {"datum": 25.0}}},
                            {"transform": [{"aggregate": [{"op": "count", "as": "n"}], "groupby": ["factor"]}], "mark": {"type": "text", "fontSize": 55, "color": "#1a1a1a", "baseline": "middle"}, "encoding": {"text": {"field": "factor"}, "y": {"datum": 24.765, "type": "quantitative", "axis": {"title": null}}}},
                            {"data": {"name": "means"}, "transform": [{"filter": {"field": "response", "equal": "DD"}}], "mark": {"type": "rule", "color": "#E01010", "strokeWidth": 5.5, "strokeDash": [38, 12, 9, 12]}, "encoding": {"y": {"field": "mean", "type": "quantitative", "axis": {"title": null}}}},
                            {"mark": {"type": "line", "color": "#C283C8", "strokeWidth": 4.5}, "encoding": {"x": {"field": "level", "type": "ordinal", "axis": {"title": null}}, "y": {"field": "sn", "type": "quantitative", "axis": {"title": null}}}},
                            {"mark": {"type": "point", "shape": "triangle-right", "filled": true, "size": 1300, "color": "#F48DBA", "opacity": 1}, "encoding": {"x": {"field": "level", "type": "ordinal", "axis": {"title": null}}, "y": {"field": "sn", "type": "quantitative", "axis": {"title": null}}}},
                            {"transform": [{"filter": {"field": "best", "equal": true}}], "mark": {"type": "point", "shape": "circle", "filled": false, "size": 4400, "color": "#1E8C1E", "strokeWidth": 4.5, "opacity": 1}, "encoding": {"x": {"field": "level", "type": "ordinal", "axis": {"title": null}}, "y": {"field": "sn", "type": "quantitative", "axis": {"title": null}}}}
                          ]
                        },
                        {
                          "width": 890, "height": 504,
                          "data": {"name": "dd"},
                          "transform": [{"filter": {"field": "factor", "equal": "Feed rate (mm/rev)"}}],
                          "layer": [
                            {"transform": [{"aggregate": [{"op": "count", "as": "n"}], "groupby": ["factor"]}], "mark": {"type": "rect", "fill": "white", "stroke": "#222", "strokeWidth": 3.5}, "encoding": {"y": {"datum": 24.53, "type": "quantitative", "scale": {"domain": [19.95, 25.0], "nice": false, "zero": false}, "axis": {"title": null, "values": [20, 21, 22, 23, 24], "labels": false, "ticks": false}}, "y2": {"datum": 25.0}}},
                            {"transform": [{"aggregate": [{"op": "count", "as": "n"}], "groupby": ["factor"]}], "mark": {"type": "text", "fontSize": 55, "color": "#1a1a1a", "baseline": "middle"}, "encoding": {"text": {"field": "factor"}, "y": {"datum": 24.765, "type": "quantitative", "axis": {"title": null}}}},
                            {"data": {"name": "means"}, "transform": [{"filter": {"field": "response", "equal": "DD"}}], "mark": {"type": "rule", "color": "#E01010", "strokeWidth": 5.5, "strokeDash": [38, 12, 9, 12]}, "encoding": {"y": {"field": "mean", "type": "quantitative", "axis": {"title": null}}}},
                            {"mark": {"type": "line", "color": "#C283C8", "strokeWidth": 4.5}, "encoding": {"x": {"field": "level", "type": "ordinal", "axis": {"title": null}}, "y": {"field": "sn", "type": "quantitative", "axis": {"title": null}}}},
                            {"mark": {"type": "point", "shape": "triangle-right", "filled": true, "size": 1300, "color": "#F48DBA", "opacity": 1}, "encoding": {"x": {"field": "level", "type": "ordinal", "axis": {"title": null}}, "y": {"field": "sn", "type": "quantitative", "axis": {"title": null}}}},
                            {"transform": [{"filter": {"field": "best", "equal": true}}], "mark": {"type": "point", "shape": "circle", "filled": false, "size": 4400, "color": "#1E8C1E", "strokeWidth": 4.5, "opacity": 1}, "encoding": {"x": {"field": "level", "type": "ordinal", "axis": {"title": null}}, "y": {"field": "sn", "type": "quantitative", "axis": {"title": null}}}}
                          ]
                        }
                      ],
                      "spacing": 0, "bounds": "flush"
                    },
                    {
                      "hconcat": [
                        {
                          "width": 890, "height": 504,
                          "data": {"name": "dd"},
                          "transform": [{"filter": {"field": "factor", "equal": "Point angle (°)"}}],
                          "layer": [
                            {"transform": [{"aggregate": [{"op": "count", "as": "n"}], "groupby": ["factor"]}], "mark": {"type": "rect", "fill": "white", "stroke": "#222", "strokeWidth": 3.5}, "encoding": {"y": {"datum": 24.53, "type": "quantitative", "scale": {"domain": [19.95, 25.0], "nice": false, "zero": false}, "axis": {"title": null, "format": "d", "values": [20, 21, 22, 23, 24]}}, "y2": {"datum": 25.0}}},
                            {"transform": [{"aggregate": [{"op": "count", "as": "n"}], "groupby": ["factor"]}], "mark": {"type": "text", "fontSize": 55, "color": "#1a1a1a", "baseline": "middle"}, "encoding": {"text": {"field": "factor"}, "y": {"datum": 24.765, "type": "quantitative", "axis": {"title": null}}}},
                            {"data": {"name": "means"}, "transform": [{"filter": {"field": "response", "equal": "DD"}}], "mark": {"type": "rule", "color": "#E01010", "strokeWidth": 5.5, "strokeDash": [38, 12, 9, 12]}, "encoding": {"y": {"field": "mean", "type": "quantitative", "axis": {"title": null}}}},
                            {"mark": {"type": "line", "color": "#C283C8", "strokeWidth": 4.5}, "encoding": {"x": {"field": "level", "type": "ordinal", "axis": {"title": null}}, "y": {"field": "sn", "type": "quantitative", "axis": {"title": null}}}},
                            {"mark": {"type": "point", "shape": "triangle-right", "filled": true, "size": 1300, "color": "#F48DBA", "opacity": 1}, "encoding": {"x": {"field": "level", "type": "ordinal", "axis": {"title": null}}, "y": {"field": "sn", "type": "quantitative", "axis": {"title": null}}}},
                            {"transform": [{"filter": {"field": "best", "equal": true}}], "mark": {"type": "point", "shape": "circle", "filled": false, "size": 4400, "color": "#1E8C1E", "strokeWidth": 4.5, "opacity": 1}, "encoding": {"x": {"field": "level", "type": "ordinal", "axis": {"title": null}}, "y": {"field": "sn", "type": "quantitative", "axis": {"title": null}}}}
                          ]
                        },
                        {
                          "width": 890, "height": 504,
                          "data": {"name": "dd"},
                          "transform": [{"filter": {"field": "factor", "equal": "Reinforcement ratio (%)"}}],
                          "layer": [
                            {"transform": [{"aggregate": [{"op": "count", "as": "n"}], "groupby": ["factor"]}], "mark": {"type": "rect", "fill": "white", "stroke": "#222", "strokeWidth": 3.5}, "encoding": {"y": {"datum": 24.53, "type": "quantitative", "scale": {"domain": [19.95, 25.0], "nice": false, "zero": false}, "axis": {"title": null, "values": [20, 21, 22, 23, 24], "labels": false, "ticks": false}}, "y2": {"datum": 25.0}}},
                            {"transform": [{"aggregate": [{"op": "count", "as": "n"}], "groupby": ["factor"]}], "mark": {"type": "text", "fontSize": 55, "color": "#1a1a1a", "baseline": "middle"}, "encoding": {"text": {"field": "factor"}, "y": {"datum": 24.765, "type": "quantitative", "axis": {"title": null}}}},
                            {"data": {"name": "means"}, "transform": [{"filter": {"field": "response", "equal": "DD"}}], "mark": {"type": "rule", "color": "#E01010", "strokeWidth": 5.5, "strokeDash": [38, 12, 9, 12]}, "encoding": {"y": {"field": "mean", "type": "quantitative", "axis": {"title": null}}}},
                            {"mark": {"type": "line", "color": "#C283C8", "strokeWidth": 4.5}, "encoding": {"x": {"field": "level", "type": "ordinal", "axis": {"title": null}}, "y": {"field": "sn", "type": "quantitative", "axis": {"title": null}}}},
                            {"mark": {"type": "point", "shape": "triangle-right", "filled": true, "size": 1300, "color": "#F48DBA", "opacity": 1}, "encoding": {"x": {"field": "level", "type": "ordinal", "axis": {"title": null}}, "y": {"field": "sn", "type": "quantitative", "axis": {"title": null}}}},
                            {"transform": [{"filter": {"field": "best", "equal": true}}], "mark": {"type": "point", "shape": "circle", "filled": false, "size": 4400, "color": "#1E8C1E", "strokeWidth": 4.5, "opacity": 1}, "encoding": {"x": {"field": "level", "type": "ordinal", "axis": {"title": null}}, "y": {"field": "sn", "type": "quantitative", "axis": {"title": null}}}}
                          ]
                        }
                      ],
                      "spacing": 0, "bounds": "flush"
                    }
                  ]
                }
              ]
            }
          ]
        },
        {
          "title": {"text": "(f)", "orient": "bottom", "anchor": "middle", "frame": "bounds", "fontSize": 60, "fontWeight": "bold", "offset": 47},
          "vconcat": [
            {
              "title": {"text": "Signal-to-noise: Smaller is better", "orient": "bottom", "anchor": "start", "frame": "bounds", "fontSize": 55, "fontStyle": "italic", "fontWeight": "normal", "color": "#444", "offset": 37, "dx": -39},
              "vconcat": [
                {
                  "title": {"text": "Mean of CD-S/N ratios, dB", "orient": "left", "anchor": "middle", "fontSize": 58, "fontWeight": "bold", "color": "#333", "offset": 30},
                  "spacing": 15,
                  "vconcat": [
                    {
                      "hconcat": [
                        {
                          "width": 891, "height": 495,
                          "view": {"stroke": "#2E4A2E"},
                          "data": {"name": "cd"},
                          "transform": [{"filter": {"field": "factor", "equal": "Cutting speed (m/min)"}}],
                          "layer": [
                            {"transform": [{"aggregate": [{"op": "count", "as": "n"}], "groupby": ["factor"]}], "mark": {"type": "rect", "fill": "white", "stroke": "#2E4A2E", "strokeWidth": 3.5}, "encoding": {"y": {"datum": 33.08, "type": "quantitative", "scale": {"domain": [28.93, 33.52], "nice": false, "zero": false}, "axis": {"title": null, "format": "d", "values": [29, 30, 31, 32, 33]}}, "y2": {"datum": 33.52}}},
                            {"transform": [{"aggregate": [{"op": "count", "as": "n"}], "groupby": ["factor"]}], "mark": {"type": "text", "fontSize": 54, "color": "#1a1a1a", "baseline": "middle"}, "encoding": {"text": {"field": "factor"}, "y": {"datum": 33.3, "type": "quantitative", "axis": {"title": null}}}},
                            {"data": {"name": "means"}, "transform": [{"filter": {"field": "response", "equal": "CD"}}], "mark": {"type": "rule", "color": "#E01010", "strokeWidth": 5.5, "strokeDash": [38, 12, 9, 12]}, "encoding": {"y": {"field": "mean", "type": "quantitative", "axis": {"title": null}}}},
                            {"mark": {"type": "line", "color": "#111111", "strokeWidth": 4.5}, "encoding": {"x": {"field": "level", "type": "ordinal", "axis": {"title": null}}, "y": {"field": "sn", "type": "quantitative", "axis": {"title": null}}}},
                            {"mark": {"type": "point", "shape": "triangle-left", "filled": true, "size": 1300, "color": "#D9C96F", "opacity": 1}, "encoding": {"x": {"field": "level", "type": "ordinal", "axis": {"title": null}}, "y": {"field": "sn", "type": "quantitative", "axis": {"title": null}}}},
                            {"transform": [{"filter": {"field": "best", "equal": true}}], "mark": {"type": "point", "shape": "circle", "filled": false, "size": 4400, "color": "#1E8C1E", "strokeWidth": 4.5, "opacity": 1}, "encoding": {"x": {"field": "level", "type": "ordinal", "axis": {"title": null}}, "y": {"field": "sn", "type": "quantitative", "axis": {"title": null}}}}
                          ]
                        },
                        {
                          "width": 891, "height": 495,
                          "view": {"stroke": "#2E4A2E"},
                          "data": {"name": "cd"},
                          "transform": [{"filter": {"field": "factor", "equal": "Feed rate (mm/rev)"}}],
                          "layer": [
                            {"transform": [{"aggregate": [{"op": "count", "as": "n"}], "groupby": ["factor"]}], "mark": {"type": "rect", "fill": "white", "stroke": "#2E4A2E", "strokeWidth": 3.5}, "encoding": {"y": {"datum": 33.08, "type": "quantitative", "scale": {"domain": [28.93, 33.52], "nice": false, "zero": false}, "axis": {"title": null, "values": [29, 30, 31, 32, 33], "labels": false, "ticks": false}}, "y2": {"datum": 33.52}}},
                            {"transform": [{"aggregate": [{"op": "count", "as": "n"}], "groupby": ["factor"]}], "mark": {"type": "text", "fontSize": 54, "color": "#1a1a1a", "baseline": "middle"}, "encoding": {"text": {"field": "factor"}, "y": {"datum": 33.3, "type": "quantitative", "axis": {"title": null}}}},
                            {"data": {"name": "means"}, "transform": [{"filter": {"field": "response", "equal": "CD"}}], "mark": {"type": "rule", "color": "#E01010", "strokeWidth": 5.5, "strokeDash": [38, 12, 9, 12]}, "encoding": {"y": {"field": "mean", "type": "quantitative", "axis": {"title": null}}}},
                            {"mark": {"type": "line", "color": "#111111", "strokeWidth": 4.5}, "encoding": {"x": {"field": "level", "type": "ordinal", "axis": {"title": null}}, "y": {"field": "sn", "type": "quantitative", "axis": {"title": null}}}},
                            {"mark": {"type": "point", "shape": "triangle-left", "filled": true, "size": 1300, "color": "#D9C96F", "opacity": 1}, "encoding": {"x": {"field": "level", "type": "ordinal", "axis": {"title": null}}, "y": {"field": "sn", "type": "quantitative", "axis": {"title": null}}}},
                            {"transform": [{"filter": {"field": "best", "equal": true}}], "mark": {"type": "point", "shape": "circle", "filled": false, "size": 4400, "color": "#1E8C1E", "strokeWidth": 4.5, "opacity": 1}, "encoding": {"x": {"field": "level", "type": "ordinal", "axis": {"title": null}}, "y": {"field": "sn", "type": "quantitative", "axis": {"title": null}}}}
                          ]
                        }
                      ],
                      "spacing": 0, "bounds": "flush"
                    },
                    {
                      "hconcat": [
                        {
                          "width": 891, "height": 495,
                          "view": {"stroke": "#2E4A2E"},
                          "data": {"name": "cd"},
                          "transform": [{"filter": {"field": "factor", "equal": "Point angle (°)"}}],
                          "layer": [
                            {"transform": [{"aggregate": [{"op": "count", "as": "n"}], "groupby": ["factor"]}], "mark": {"type": "rect", "fill": "white", "stroke": "#2E4A2E", "strokeWidth": 3.5}, "encoding": {"y": {"datum": 33.08, "type": "quantitative", "scale": {"domain": [28.93, 33.52], "nice": false, "zero": false}, "axis": {"title": null, "format": "d", "values": [29, 30, 31, 32, 33]}}, "y2": {"datum": 33.52}}},
                            {"transform": [{"aggregate": [{"op": "count", "as": "n"}], "groupby": ["factor"]}], "mark": {"type": "text", "fontSize": 54, "color": "#1a1a1a", "baseline": "middle"}, "encoding": {"text": {"field": "factor"}, "y": {"datum": 33.3, "type": "quantitative", "axis": {"title": null}}}},
                            {"data": {"name": "means"}, "transform": [{"filter": {"field": "response", "equal": "CD"}}], "mark": {"type": "rule", "color": "#E01010", "strokeWidth": 5.5, "strokeDash": [38, 12, 9, 12]}, "encoding": {"y": {"field": "mean", "type": "quantitative", "axis": {"title": null}}}},
                            {"mark": {"type": "line", "color": "#111111", "strokeWidth": 4.5}, "encoding": {"x": {"field": "level", "type": "ordinal", "axis": {"title": null}}, "y": {"field": "sn", "type": "quantitative", "axis": {"title": null}}}},
                            {"mark": {"type": "point", "shape": "triangle-left", "filled": true, "size": 1300, "color": "#D9C96F", "opacity": 1}, "encoding": {"x": {"field": "level", "type": "ordinal", "axis": {"title": null}}, "y": {"field": "sn", "type": "quantitative", "axis": {"title": null}}}},
                            {"transform": [{"filter": {"field": "best", "equal": true}}], "mark": {"type": "point", "shape": "circle", "filled": false, "size": 4400, "color": "#1E8C1E", "strokeWidth": 4.5, "opacity": 1}, "encoding": {"x": {"field": "level", "type": "ordinal", "axis": {"title": null}}, "y": {"field": "sn", "type": "quantitative", "axis": {"title": null}}}}
                          ]
                        },
                        {
                          "width": 891, "height": 495,
                          "view": {"stroke": "#2E4A2E"},
                          "data": {"name": "cd"},
                          "transform": [{"filter": {"field": "factor", "equal": "Reinforcement ratio (%)"}}],
                          "layer": [
                            {"transform": [{"aggregate": [{"op": "count", "as": "n"}], "groupby": ["factor"]}], "mark": {"type": "rect", "fill": "white", "stroke": "#2E4A2E", "strokeWidth": 3.5}, "encoding": {"y": {"datum": 33.08, "type": "quantitative", "scale": {"domain": [28.93, 33.52], "nice": false, "zero": false}, "axis": {"title": null, "values": [29, 30, 31, 32, 33], "labels": false, "ticks": false}}, "y2": {"datum": 33.52}}},
                            {"transform": [{"aggregate": [{"op": "count", "as": "n"}], "groupby": ["factor"]}], "mark": {"type": "text", "fontSize": 54, "color": "#1a1a1a", "baseline": "middle"}, "encoding": {"text": {"field": "factor"}, "y": {"datum": 33.3, "type": "quantitative", "axis": {"title": null}}}},
                            {"data": {"name": "means"}, "transform": [{"filter": {"field": "response", "equal": "CD"}}], "mark": {"type": "rule", "color": "#E01010", "strokeWidth": 5.5, "strokeDash": [38, 12, 9, 12]}, "encoding": {"y": {"field": "mean", "type": "quantitative", "axis": {"title": null}}}},
                            {"mark": {"type": "line", "color": "#111111", "strokeWidth": 4.5}, "encoding": {"x": {"field": "level", "type": "ordinal", "axis": {"title": null}}, "y": {"field": "sn", "type": "quantitative", "axis": {"title": null}}}},
                            {"mark": {"type": "point", "shape": "triangle-left", "filled": true, "size": 1300, "color": "#D9C96F", "opacity": 1}, "encoding": {"x": {"field": "level", "type": "ordinal", "axis": {"title": null}}, "y": {"field": "sn", "type": "quantitative", "axis": {"title": null}}}},
                            {"transform": [{"filter": {"field": "best", "equal": true}}], "mark": {"type": "point", "shape": "circle", "filled": false, "size": 4400, "color": "#1E8C1E", "strokeWidth": 4.5, "opacity": 1}, "encoding": {"x": {"field": "level", "type": "ordinal", "axis": {"title": null}}, "y": {"field": "sn", "type": "quantitative", "axis": {"title": null}}}}
                          ]
                        }
                      ],
                      "spacing": 0, "bounds": "flush"
                    }
                  ]
                }
              ]
            }
          ]
        }
      ],
      "spacing": 32
    }
  ]
}
